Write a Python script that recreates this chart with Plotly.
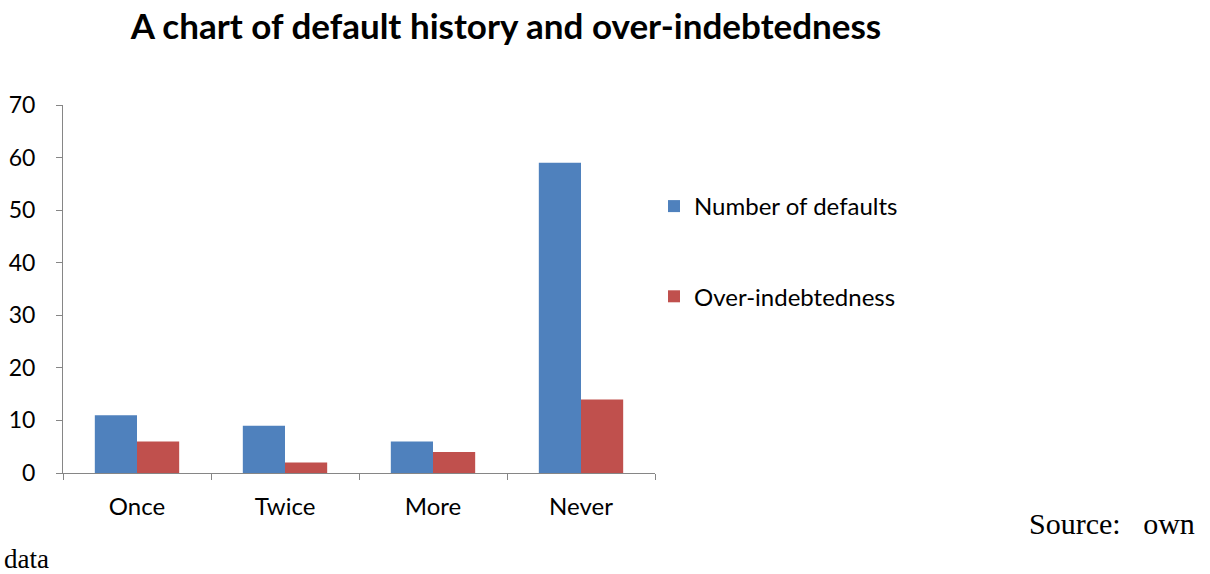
import plotly.graph_objects as go

# Default history categories and the two series plotted per category
categories = ["Once", "Twice", "More", "Never"]
number_of_defaults = [11, 9, 6, 59]
over_indebtedness = [6, 2, 4, 14]
y_ticks = [0, 10, 20, 30, 40, 50, 60, 70]

W, H = 1210, 574
L, R, T, B = 63, 555, 105, 101
FONT = "Lato"
PW, PH = W - L - R, H - T - B

fig = go.Figure()
fig.add_trace(go.Bar(
    x=categories, y=number_of_defaults, name="Number of defaults",
    marker=dict(color="#4F81BD", line=dict(width=0)), legendgroup="a",
))
fig.add_trace(go.Bar(
    x=categories, y=over_indebtedness, name="Over-indebtedness",
    marker=dict(color="#C0504D", line=dict(width=0)), legendgroup="b",
))

fig.update_layout(
    width=W, height=H,
    margin=dict(l=L, r=R, t=T, b=B, pad=0, autoexpand=False),
    paper_bgcolor="white", plot_bgcolor="white",
    barmode="group", bargap=0.43, bargroupgap=0,
    font=dict(family=FONT, size=24, color="black"),
    title=dict(
        text="<b>A chart of default history and over-indebtedness</b>",
        x=506 / W, xanchor="center", y=1 - 27 / H, yanchor="middle",
        font=dict(family=FONT, size=35, color="black"),
    ),
    showlegend=True,
    legend=dict(
        x=(654 - L) / PW, xanchor="left",
        y=1 - (184 - T) / PH, yanchor="top",
        bgcolor="rgba(0,0,0,0)", tracegroupgap=56,
        font=dict(family=FONT, size=24, color="black"),
        itemclick=False,
    ),
    xaxis=dict(
        type="category", showline=True, linecolor="#868686", linewidth=1,
        ticks="outside", tickson="boundaries", ticklen=6, tickcolor="#868686",
        showgrid=False, zeroline=False, ticklabelstandoff=12, automargin=False,
        tickfont=dict(family=FONT, size=24, color="black"),
    ),
    yaxis=dict(
        range=[0, 70], tickvals=y_ticks, showline=True, linecolor="#868686",
        linewidth=1, ticks="outside", ticklen=6, tickcolor="#868686",
        showgrid=False, zeroline=False, ticklabelstandoff=16, automargin=False,
        tickfont=dict(family=FONT, size=23, color="black"),
    ),
)

fig.add_annotation(
    text="Source:&nbsp;&nbsp;&nbsp;own", xref="paper", yref="paper",
    x=(1197 - L) / PW, xanchor="right",
    y=1 - (523 - T) / PH, yanchor="middle",
    showarrow=False, font=dict(family="Liberation Serif", size=30, color="black"),
)
fig.add_annotation(
    text="data", xref="paper", yref="paper",
    x=(2 - L) / PW, xanchor="left",
    y=1 - (559 - T) / PH, yanchor="middle",
    showarrow=False, font=dict(family="Liberation Serif", size=27, color="black"),
)

fig.write_html("out.html")
